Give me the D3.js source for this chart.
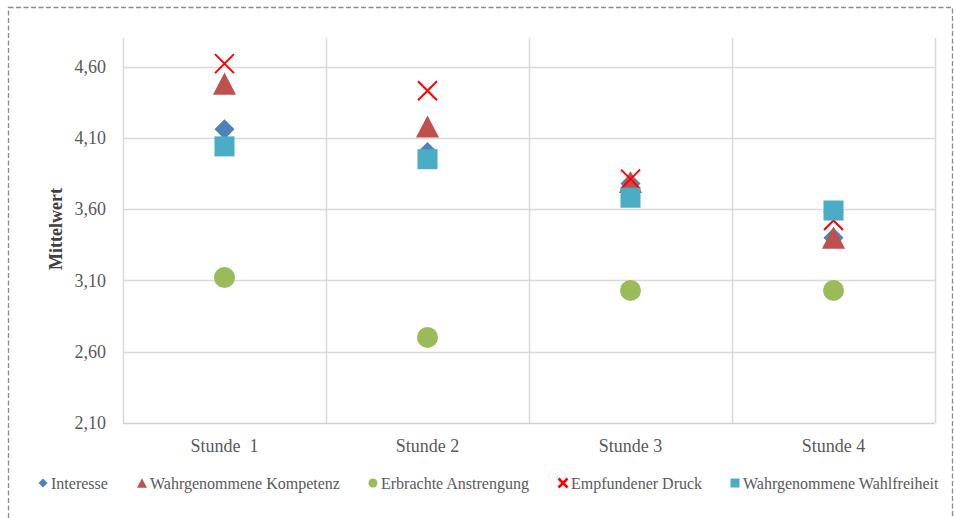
<!DOCTYPE html>
<html>
<head>
<meta charset="utf-8">
<script src="https://cdn.jsdelivr.net/npm/d3@7"></script>
<style>
  body { margin: 0; background: #fff; }
  svg { display: block; }
  svg text { font-family: 'Liberation Serif', 'Times New Roman', serif; }
</style>
</head>
<body>
<svg id="chart" width="954" height="518"></svg>
<script>
const categories = ["Stunde  1", "Stunde 2", "Stunde 3", "Stunde 4"];
const yTicks = [2.10, 2.60, 3.10, 3.60, 4.10, 4.60];
const seriesNames = ["Interesse", "Wahrgenommene Kompetenz", "Erbrachte Anstrengung", "Empfundener Druck", "Wahrgenommene Wahlfreiheit"];
const interesse = [4.16, 4.00, 3.78, 3.40];
const kompetenz = [4.48, 4.18, 3.79, 3.40];
const anstrengung = [3.12, 2.70, 3.03, 3.03];
const druck = [4.62, 4.43, 3.81, 3.52];
const wahlfreiheit = [4.04, 3.95, 3.68, 3.59];

const colors = ["#4f81bd", "#c0504d", "#9bbb59", "#ff0000", "#4bacc6"];
const shapes = ["diamond", "triangle", "circle", "cross", "square"];
const allSeries = [interesse, kompetenz, anstrengung, druck, wahlfreiheit];

const svg = d3.select("#chart");
const plot = { left: 123, right: 935, top: 38, bottom: 423 };

// dashed outer frame
svg.append("rect")
  .attr("x", 8.5).attr("y", 7.5)
  .attr("width", 944).attr("height", 530)
  .attr("fill", "none")
  .attr("stroke", "#8c8c8c")
  .attr("stroke-width", 1.3)
  .attr("stroke-dasharray", "5,2.5");

const x = d3.scaleBand().domain(categories).range([plot.left, plot.right]).padding(0);
const y = d3.scaleLinear().domain([2.1, 4.8]).range([plot.bottom, plot.top]);

const grid = svg.append("g");
grid.selectAll("line.h").data(yTicks.slice(1)).enter().append("line")
  .attr("x1", plot.left).attr("x2", plot.right)
  .attr("y1", d => Math.round(y(d)) + 0.5).attr("y2", d => Math.round(y(d)) + 0.5)
  .attr("stroke", "#d9d9d9").attr("stroke-width", 1.5);
const edges = categories.map(c => x(c)).concat([x(categories[categories.length - 1]) + x.bandwidth()]);
grid.selectAll("line.v").data(edges).enter().append("line")
  .attr("x1", d => Math.round(d) + 0.5).attr("x2", d => Math.round(d) + 0.5)
  .attr("y1", plot.top).attr("y2", plot.bottom)
  .attr("stroke", "#d9d9d9").attr("stroke-width", 1.5);
svg.append("line")
  .attr("x1", plot.left).attr("x2", plot.right)
  .attr("y1", Math.round(y(2.1)) + 0.5).attr("y2", Math.round(y(2.1)) + 0.5)
  .attr("stroke", "#d0d0d0").attr("stroke-width", 1.5);

// y axis labels
const yAxis = d3.axisLeft(y).tickValues(yTicks).tickSize(0).tickPadding(17)
  .tickFormat(d => d3.format(".2f")(d).replace(".", ","));
const yg = svg.append("g").attr("transform", `translate(${plot.left},0)`).call(yAxis);
yg.select(".domain").remove();
yg.attr("font-family", null);
yg.selectAll("text").attr("font-size", 18).attr("fill", "#595959");

// x axis labels
const xAxis = d3.axisBottom(x).tickSize(0).tickPadding(16);
const xg = svg.append("g").attr("transform", `translate(0,${plot.bottom})`).call(xAxis);
xg.select(".domain").remove();
xg.attr("font-family", null);
xg.selectAll("text").attr("font-size", 18).attr("fill", "#595959")
  .style("white-space", "pre");

// y title
svg.append("text")
  .attr("transform", "translate(62,229) rotate(-90)")
  .attr("text-anchor", "middle")
  .attr("font-size", 18).attr("font-weight", "bold").attr("fill", "#404040")
  .text("Mittelwert");

function drawMarker(g, shape, color, cx, cy, size) {
  if (shape === "cross") {
    const h = size / 2;
    g.append("path")
      .attr("d", `M${cx - h},${cy - h}L${cx + h},${cy + h}M${cx - h},${cy + h}L${cx + h},${cy - h}`)
      .attr("stroke", color).attr("stroke-width", size > 12 ? 2 : 2.5).attr("fill", "none");
  } else if (shape === "diamond") {
    const h = size / 2;
    g.append("path").attr("d", `M${cx},${cy - h}L${cx + h},${cy}L${cx},${cy + h}L${cx - h},${cy}Z`).attr("fill", color);
  } else if (shape === "triangle") {
    const w = size * 1.1, hh = size * 1.05;
    g.append("path").attr("d", `M${cx},${cy - hh / 2}L${cx + w / 2},${cy + hh / 2}L${cx - w / 2},${cy + hh / 2}Z`).attr("fill", color);
  } else if (shape === "circle") {
    g.append("circle").attr("cx", cx).attr("cy", cy).attr("r", size / 2).attr("fill", color);
  } else if (shape === "square") {
    g.append("rect").attr("x", cx - size / 2).attr("y", cy - size / 2).attr("width", size).attr("height", size).attr("fill", color);
  }
}

const marks = svg.append("g");
const sizes = [20, 21, 21, 19, 20];
allSeries.forEach((vals, si) => {
  const g = marks.append("g").attr("class", "series-" + si);
  vals.forEach((v, ci) => {
    const cx = x(categories[ci]) + x.bandwidth() / 2;
    drawMarker(g, shapes[si], colors[si], cx, y(v), sizes[si]);
  });
});

// legend
const legendX = [43, 142, 373, 563, 735];
const leg = svg.append("g");
seriesNames.forEach((name, i) => {
  const g = leg.append("g");
  drawMarker(g, shapes[i], colors[i], legendX[i], 483, 9);
  g.append("text")
    .attr("x", legendX[i] + 8).attr("y", 483).attr("dy", "0.35em")
    .attr("font-size", 16).attr("fill", "#595959")
    .text(name);
});
</script>
</body>
</html>
